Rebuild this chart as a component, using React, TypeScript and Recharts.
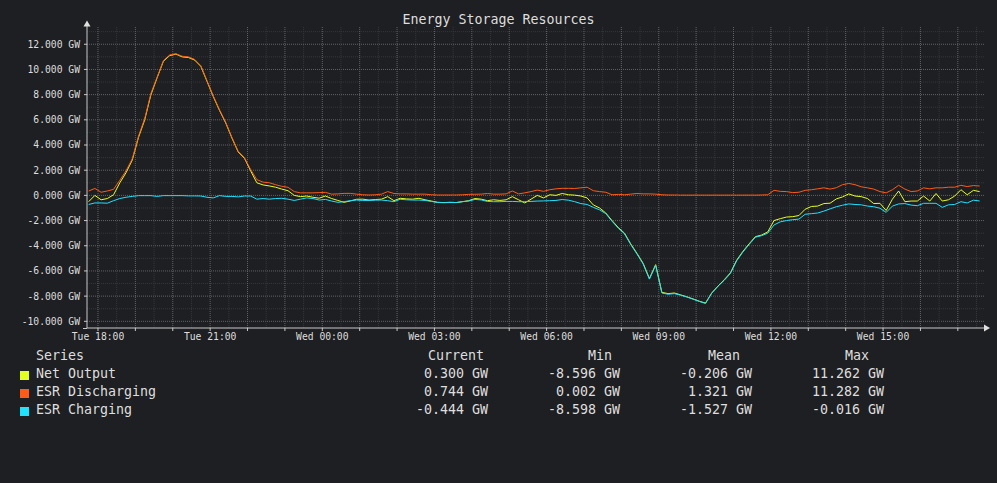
import React from 'react'
import { LineChart, Line, XAxis, YAxis, ReferenceLine } from 'recharts'

// samples every 10 min, first one at Tue 17:45 (hours measured from Tue 18:00)
const START_HOUR = -0.25
const STEP_HOUR = 1 / 6

// GW
const netOutput = [
  -0.5, 0.0, -0.35, -0.25, 0.05, 1.0, 1.8, 2.8, 4.6, 6.0,
  8.0, 9.35, 10.65, 11.1, 11.22, 11.0, 10.95, 10.75, 10.25, 9.05,
  7.85, 6.75, 5.75, 4.55, 3.45, 2.95, 1.95, 1.0, 0.83, 0.75,
  0.65, 0.5, 0.37, 0.0, -0.1, -0.05, -0.15, -0.22, -0.05, -0.25,
  -0.4, -0.55, -0.44, -0.31, -0.3, -0.37, -0.33, -0.3, -0.1, -0.42,
  -0.23, -0.28, -0.3, -0.23, -0.35, -0.45, -0.55, -0.57, -0.55, -0.57,
  -0.5, -0.42, -0.25, -0.3, -0.42, -0.35, -0.4, -0.35, -0.1, -0.35,
  -0.6, -0.3, 0.0, -0.2, 0.05, 0.0, 0.15, 0.05, 0.02, -0.05,
  -0.2, -0.76, -1.0, -1.4, -2.0, -2.55, -3.0, -3.85, -4.6, -5.4,
  -6.6, -5.5, -7.7, -7.8, -7.75, -7.9, -8.05, -8.22, -8.4, -8.55,
  -7.75, -7.2, -6.7, -6.15, -5.15, -4.45, -3.85, -3.28, -3.15, -2.9,
  -2.0, -1.85, -1.72, -1.69, -1.6, -1.1, -0.88, -0.85, -0.65, -0.62,
  -0.28, -0.12, 0.12, -0.05, -0.1, -0.25, -0.65, -0.63, -1.2, -0.3,
  0.35, -0.5, -0.45, -0.45, -0.05, -0.45, 0.15, -0.45, -0.35, -0.05,
  0.45, 0.05, 0.4, 0.3,
]

const esrDischarging = [
  0.35, 0.55, 0.25, 0.35, 0.48, 1.2, 1.95, 2.9, 4.7, 6.1,
  8.1, 9.4, 10.7, 11.15, 11.25, 11.05, 11.0, 10.8, 10.3, 9.1,
  7.9, 6.8, 5.8, 4.6, 3.5, 3.0, 2.05, 1.25, 1.05, 1.0,
  0.85, 0.72, 0.64, 0.3, 0.2, 0.2, 0.2, 0.22, 0.24, 0.1,
  0.12, 0.16, 0.16, 0.1, 0.05, 0.03, 0.05, 0.1, 0.3, 0.15,
  0.12, 0.12, 0.1, 0.1, 0.1, 0.05, 0.03, 0.03, 0.03, 0.03,
  0.05, 0.08, 0.09, 0.1, 0.15, 0.1, 0.1, 0.12, 0.35, 0.12,
  0.2, 0.3, 0.42, 0.32, 0.45, 0.52, 0.56, 0.56, 0.55, 0.6,
  0.65, 0.37, 0.3, 0.25, 0.05, 0.08, 0.05, 0.1, 0.15, 0.12,
  0.12, 0.1, 0.05, 0.03, 0.03, 0.02, 0.02, 0.02, 0.02, 0.02,
  0.02, 0.02, 0.02, 0.02, 0.02, 0.02, 0.02, 0.02, 0.03, 0.05,
  0.4, 0.32, 0.3, 0.22, 0.25, 0.4, 0.45, 0.52, 0.6, 0.5,
  0.61, 0.85, 0.95, 0.85, 0.68, 0.6, 0.5, 0.3, 0.2, 0.45,
  0.8, 0.5, 0.3, 0.35, 0.6, 0.52, 0.6, 0.6, 0.65, 0.65,
  0.8, 0.7, 0.78, 0.744,
]

const esrCharging = [
  -0.72, -0.6, -0.6, -0.62, -0.42, -0.25, -0.15, -0.08, -0.02, -0.02,
  -0.02, -0.08, -0.02, -0.02, -0.02, -0.02, -0.04, -0.04, -0.05, -0.15,
  -0.2, -0.02, -0.08, -0.08, -0.12, -0.05, -0.05, -0.3, -0.25, -0.3,
  -0.25, -0.23, -0.3, -0.4, -0.3, -0.2, -0.25, -0.37, -0.32, -0.45,
  -0.55, -0.5, -0.42, -0.37, -0.4, -0.4, -0.38, -0.37, -0.42, -0.5,
  -0.31, -0.35, -0.37, -0.37, -0.4, -0.48, -0.56, -0.58, -0.56, -0.57,
  -0.5, -0.45, -0.32, -0.36, -0.48, -0.5, -0.5, -0.48, -0.48, -0.5,
  -0.5, -0.48, -0.45, -0.44, -0.42, -0.4, -0.33, -0.38, -0.5, -0.65,
  -0.72, -0.95, -1.15, -1.45, -2.05, -2.6, -3.05, -3.9, -4.65, -5.45,
  -6.65, -5.55, -7.75, -7.85, -7.8, -7.92, -8.07, -8.24, -8.42, -8.58,
  -7.77, -7.22, -6.75, -6.2, -5.2, -4.5, -3.9, -3.32, -3.2, -3.0,
  -2.35, -2.1, -2.0, -1.93, -1.88, -1.5, -1.45, -1.4, -1.25, -1.07,
  -0.9, -0.78, -0.68, -0.72, -0.75, -0.85, -0.9, -1.02, -1.35, -0.85,
  -0.68, -0.65, -0.77, -0.82, -0.63, -0.63, -0.63, -0.95, -0.75, -0.72,
  -0.5, -0.6, -0.38, -0.444,
]

const hourTicks = [
  0, 1, 2, 3, 4, 5, 6, 7, 8, 9, 10, 11,
  12, 13, 14, 15, 16, 17, 18, 19, 20, 21, 22, 23,
]
const hourLabels: Record<number, string> = {
  0: 'Tue 18:00', 3: 'Tue 21:00', 6: 'Wed 00:00', 9: 'Wed 03:00',
  12: 'Wed 06:00', 15: 'Wed 09:00', 18: 'Wed 12:00', 21: 'Wed 15:00',
}
const valueTicks = [-10, -8, -6, -4, -2, 0, 2, 4, 6, 8, 10, 12]

const seriesNames = ['Net Output', 'ESR Discharging', 'ESR Charging']
const currentValues = ['0.300 GW', '0.744 GW', '-0.444 GW']
const minValues = ['-8.596 GW', '0.002 GW', '-8.598 GW']
const meanValues = ['-0.206 GW', '1.321 GW', '-1.527 GW']
const maxValues = ['11.262 GW', '11.282 GW', '-0.016 GW']

const COLORS = ['#e4ff1e', '#ff5b17', '#1fe2ff']
const BG = '#1e1f22'
const FONT = '"DejaVu Sans Mono", monospace'
const TEXT = '#dedede'

const data = netOutput.map((v, i) => ({
  t: START_HOUR + i * STEP_HOUR,
  net: v,
  dis: esrDischarging[i],
  chg: esrCharging[i],
}))

const minorY: number[] = []
for (let v = -10; v <= 13; v++) minorY.push(v)
const minorX: number[] = []
for (let h = 0; h <= 23.5; h += 0.5) minorX.push(h)

export default function App() {
  const textStyle: React.CSSProperties = {
    position: 'absolute', fontFamily: FONT, fontSize: 13.3, color: TEXT,
    lineHeight: '16px', whiteSpace: 'pre',
  }
  const cols = [currentValues, minValues, meanValues, maxValues]
  const colRight = [488, 620, 752, 884]
  const headers = [['Current', 428], ['Min', 588], ['Mean', 708], ['Max', 845]] as const

  return (
    <div style={{ position: 'absolute', left: 0, top: 0, width: 997, height: 483, background: BG, overflow: 'hidden' }}>
      <LineChart width={997} height={483} data={data} margin={{ top: 26, right: 13, bottom: 135, left: 0 }}>
        {minorY.map((v) => (
          <ReferenceLine key={'y' + v} y={v} stroke={v % 2 === 0 ? '#626366' : '#36373a'} strokeDasharray="1 1" />
        ))}
        {minorX.map((h) => (
          <ReferenceLine key={'x' + h} x={h} stroke={h % 1 === 0 ? '#626366' : '#36373a'} strokeDasharray="1 1" />
        ))}
        <XAxis
          dataKey="t" type="number" domain={[-0.294, 23.7]} allowDataOverflow
          ticks={hourTicks} interval={0} height={20} tickSize={3} tickMargin={2}
          tickFormatter={(h: number) => hourLabels[h] ?? ''}
          stroke="#c8c8c8" tick={{ fill: TEXT, fontSize: 9.7, fontFamily: FONT }}
        />
        <YAxis
          type="number" domain={[-10.53, 13.45]} allowDataOverflow
          ticks={valueTicks} interval={0} width={87} tickSize={3} tickMargin={4}
          tickFormatter={(v: number) => `${v.toFixed(3)} GW`}
          stroke="#c8c8c8" tick={{ fill: TEXT, fontSize: 9.7, fontFamily: FONT }}
        />
        <Line dataKey="net" stroke={COLORS[0]} strokeWidth={1} dot={false} isAnimationActive={false} />
        <Line dataKey="dis" stroke={COLORS[1]} strokeWidth={1} dot={false} isAnimationActive={false} />
        <Line dataKey="chg" stroke={COLORS[2]} strokeWidth={1} dot={false} isAnimationActive={false} />
      </LineChart>

      <svg width={997} height={483} style={{ position: 'absolute', left: 0, top: 0, pointerEvents: 'none' }}>
        <polygon points="83.5,26.5 90.5,26.5 87,20.5" fill="#e0e0e0" />
        <polygon points="984,324.5 984,331.5 990,328" fill="#e0e0e0" />
        <line x1={83} y1={328.5} x2={87} y2={328.5} stroke="#c8c8c8" />
      </svg>

      <div style={{ ...textStyle, top: 12, left: 0, width: 997, textAlign: 'center' }}>Energy Storage Resources</div>

      <div style={{ ...textStyle, top: 348, left: 36 }}>Series</div>
      {headers.map(([h, x]) => (
        <div key={h} style={{ ...textStyle, top: 348, left: x }}>{h}</div>
      ))}
      {seriesNames.map((name, i) => (
        <React.Fragment key={name}>
          <div style={{ position: 'absolute', left: 20, top: 371 + i * 18, width: 9, height: 9, background: COLORS[i] }} />
          <div style={{ ...textStyle, top: 366 + i * 18, left: 36 }}>{name}</div>
          {cols.map((col, c) => (
            <div key={c} style={{ ...textStyle, top: 366 + i * 18, left: colRight[c] - 120, width: 120, textAlign: 'right' }}>{col[i]}</div>
          ))}
        </React.Fragment>
      ))}
    </div>
  )
}
